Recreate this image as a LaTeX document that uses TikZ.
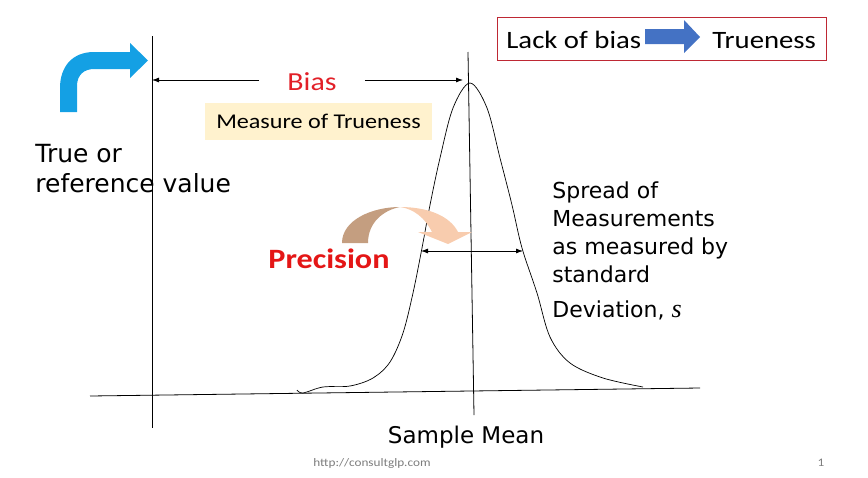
\documentclass[tikz,border=0pt]{standalone}
\usepackage{fontspec}
\setmainfont{DejaVu Sans}
\newfontfamily\calfont[FakeStretch=1.15]{Carlito}
\newfontfamily\serfont{Liberation Serif}
\usetikzlibrary{arrows.meta,calc,positioning}
\definecolor{biasred}{RGB}{226,32,40}
\definecolor{precred}{RGB}{228,22,22}
\definecolor{boxred}{RGB}{190,40,52}
\definecolor{bentblue}{RGB}{20,160,228}
\definecolor{lackblue}{RGB}{68,114,196}
\definecolor{cream}{RGB}{255,242,206}
\definecolor{tanback}{RGB}{196,158,128}
\definecolor{tanfront}{RGB}{248,204,174}
\definecolor{footgray}{RGB}{125,125,125}

\begin{document}
\begin{tikzpicture}[x=1pt,y=-1pt,line width=.8pt,
    lbl/.style={inner sep=0pt,anchor=base west,align=left},
    dimarrow/.style={-{Latex[length=7pt,width=5pt]}},
    bothdim/.style={{Latex[length=7pt,width=5pt]}-{Latex[length=7pt,width=5pt]}}]
  \useasboundingbox (0,0) rectangle (868,477);
  % axes and reference lines
  \coordinate (reftop) at (152,36);  \coordinate (refbot) at (152,428);
  \coordinate (meantop) at (468,52); \coordinate (meanbot) at (474,415);
  \coordinate (axisl) at (90,396);   \coordinate (axisr) at (700,388);
  \draw (reftop) -- (refbot);
  \draw (meantop) -- (meanbot);
  \draw (axisl) -- (axisr);
  % bell curve, drawn by hand
  \draw[line width=.7pt] plot[smooth,tension=.55] coordinates {(297,390) (303,393) (323,387) (350,386) (373,378)
    (390,362) (403,333) (413,293) (422,248) (430,205) (440,158) (453,108) (470,83) (487,108) (500,158)
    (512,205) (522,248) (537,293) (550,337) (570,363) (603,378) (643,387)};
  % bias
  \node[font=\calfont\fontsize{26}{30}\selectfont,text=biasred,inner xsep=28pt] (bias) at (312,82) {Bias};
  \coordinate (biasl) at (152,80); \coordinate (biasr) at (463,80);
  \draw[dimarrow] (bias.west |- biasl) -- (biasl);
  \draw[dimarrow] (bias.east |- biasr) -- (biasr);
  \node[fill=cream,font=\calfont\fontsize{21}{24}\selectfont,minimum width=227pt,minimum height=37pt,inner sep=0pt] (measure) at (318.5,121.5) {Measure of Trueness};
  % top right box
  \node[draw=boxred,line width=.9pt,minimum width=329pt,minimum height=43pt,inner sep=0pt] (lackbox) at (661.5,38.5) {};
  \node[lbl,font=\calfont\fontsize{25}{30}\selectfont] (lack) at (506,48) {Lack of bias};
  \node[lbl,font=\calfont\fontsize{25}{30}\selectfont] (true) at (712,48) {Trueness};
  \fill[lackblue] (645,29) -- (684,29) -- (684,20) -- (700,37) -- (684,53) -- (684,44) -- (645,44) -- cycle;
  % bent arrow
  \fill[bentblue] (60,112) -- (60,88) .. controls (60,67) and (72,52) .. (94,52) -- (130,52) -- (130,43)
    -- (148,60.5) -- (130,78) -- (130,69) -- (94,69) .. controls (84,69) and (77,75) .. (77,86) -- (77,112) -- cycle;
  \node[lbl,font=\fontsize{25}{30}\selectfont] (truelbl) at (35,192) {True or\\reference value};
  % precision
  \fill[tanback] (342,243) .. controls (342,220) and (372,207) .. (400,207)
    .. controls (384,210) and (368,222) .. (368,243) -- cycle;
  \fill[tanfront] (400,207) .. controls (428,207) and (450,216) .. (458,232) -- (472,232) -- (448,244)
    -- (418,232) -- (432,232) .. controls (425,218) and (414,209) .. (400,207) -- cycle;
  \node[lbl,font=\calfont\bfseries\fontsize{28}{32}\selectfont,text=precred] (precision) at (268,268) {Precision};
  \coordinate (sdl) at (421,251); \coordinate (sdr) at (523,251);
  \draw[bothdim] (sdl) -- (sdr);
  \node[lbl,font=\fontsize{22}{28}\selectfont] (spread) at (552,317)
    {Spread of\\Measurements\\as measured by\\standard\\[7pt]Deviation, {\serfont\itshape\fontsize{26}{28}\selectfont s}};
  \node[font=\fontsize{23}{28}\selectfont,anchor=base,inner sep=0pt] (mean) at (466,443) {Sample Mean};
  % footer
  \node[font=\calfont\fontsize{11.5}{14}\selectfont,text=footgray,anchor=base,inner sep=0pt] (url) at (372,466) {http://consultglp.com};
  \node[font=\calfont\fontsize{11.5}{14}\selectfont,text=footgray,anchor=base,inner sep=0pt] (page) at (821,466) {1};
\end{tikzpicture}
\end{document}
